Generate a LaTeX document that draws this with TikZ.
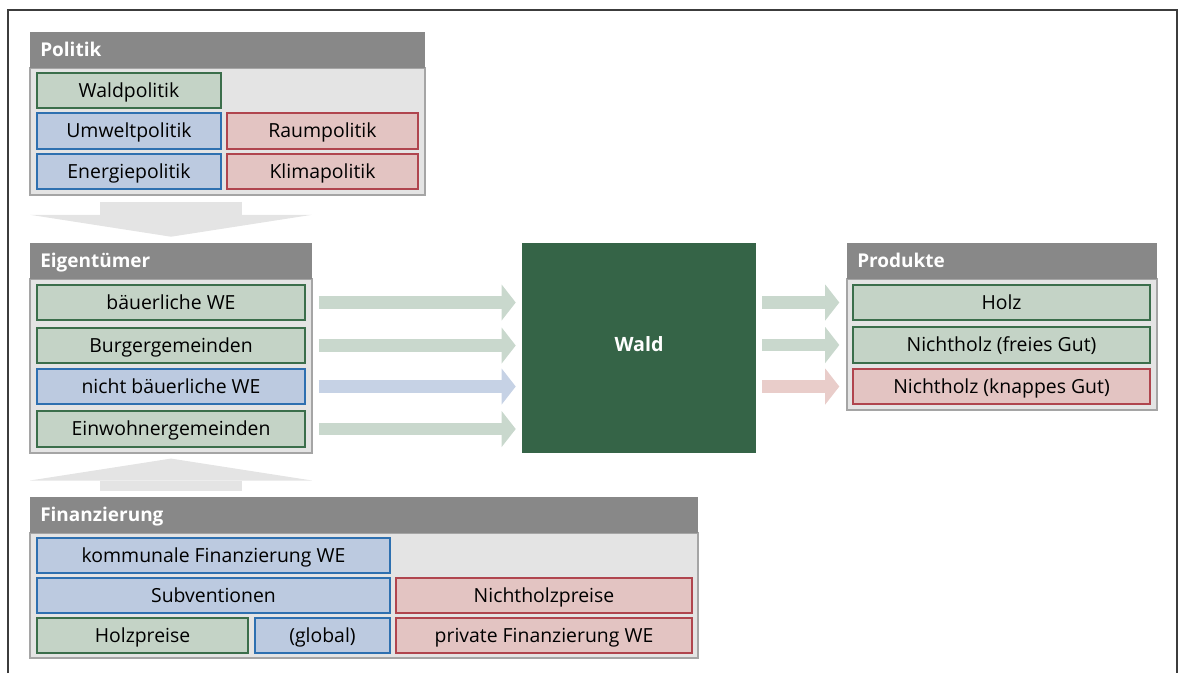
\documentclass[tikz,border=0pt]{standalone}
\usepackage{fontspec}
\setmainfont{Open Sans}
\usetikzlibrary{fit,calc,arrows.meta}

\definecolor{rahmen}{HTML}{3C3C3C}
\definecolor{kopfgrau}{HTML}{888888}
\definecolor{rumpfgrau}{HTML}{E4E4E4}
\definecolor{randgrau}{HTML}{A5A5A5}
\definecolor{pfeilgrau}{HTML}{E4E4E4}
\definecolor{gfill}{HTML}{C4D3C6}
\definecolor{grand}{HTML}{3B6E4B}
\definecolor{bfill}{HTML}{BCCAE0}
\definecolor{brand}{HTML}{2E70B0}
\definecolor{rfill}{HTML}{E3C4C2}
\definecolor{rrand}{HTML}{B0454E}
\definecolor{gpfeil}{HTML}{C9D8CD}
\definecolor{bpfeil}{HTML}{C6D2E5}
\definecolor{rpfeil}{HTML}{E9CDCA}
\definecolor{waldgruen}{HTML}{356447}

\tikzset{
  schrift/.style={inner sep=0pt, text=black, text height=9.9pt, text depth=0pt,
    font=\fontsize{13.8}{16}\selectfont},
  feld/.style={inner sep=0pt, line width=1pt},
  gruen/.style={feld, fill=gfill, draw=grand},
  blau/.style={feld, fill=bfill, draw=brand},
  rot/.style={feld, fill=rfill, draw=rrand},
  kopf/.style={fill=kopfgrau, inner sep=0pt},
  rumpf/.style={fill=rumpfgrau, draw=randgrau, line width=0.8pt, inner sep=0pt},
  titel/.style={anchor=west, inner sep=0pt, text=white, text height=9.6pt, text depth=0pt,
    font=\fontsize{13.5}{16}\selectfont\bfseries},
  waldbox/.style={fill=waldgruen, inner sep=0pt},
  waldtext/.style={inner sep=0pt, text=white, text height=10pt, text depth=0pt,
    font=\fontsize{14}{16}\selectfont\bfseries},
  pfeil/.style={line width=9.2pt, -{Triangle[length=10pt,width=25.6pt,line width=0pt]}},
  grosspfeil/.style={line width=101pt, draw=pfeilgrau, -{Triangle[length=15.6pt,width=200.6pt,line width=0pt]}},
}

\begin{document}
\begin{tikzpicture}[x=0.025cm, y=-0.025cm]
  \useasboundingbox (0,0) rectangle (1184,673);
  % 外框
  \draw[rahmen, line width=1pt] (8,673) -- (8,10) -- (1177,10) -- (1177,673);

  % Politik
  \node[rumpf, fit={(30,68) (425,195)}] (politik) {};
  \node[kopf, fit={(30,32) (425,68)}] (politikkopf) {};
  \node[titel] (politiktitel) at (40,50) {Politik};
  \node[gruen, fit={(37,73) (221,108)}, label={[schrift]center:Waldpolitik}] (waldpol) {};
  \node[blau, fit={(37,113) (221,149)}, label={[schrift]center:Umweltpolitik}] (umweltpol) {};
  \node[rot, fit={(227,113) (418,149)}, label={[schrift]center:Raumpolitik}] (raumpol) {};
  \node[blau, fit={(37,154) (221,189)}, label={[schrift]center:Energiepolitik}] (energiepol) {};
  \node[rot, fit={(227,154) (418,189)}, label={[schrift]center:Klimapolitik}] (klimapol) {};

  % Eigentümer
  \node[rumpf, fit={(30,279) (312,453)}] (eigen) {};
  \node[kopf, fit={(30,243) (312,279)}] (eigenkopf) {};
  \node[titel] (eigentitel) at (40,261) {Eigentümer};
  \node[gruen, fit={(37,285) (305,320)}, label={[schrift]center:bäuerliche WE}] (bauer) {};
  \node[gruen, fit={(37,328) (305,363)}, label={[schrift]center:Burgergemeinden}] (burger) {};
  \node[blau, fit={(37,369) (305,404)}, label={[schrift]center:nicht bäuerliche WE}] (nichtbauer) {};
  \node[gruen, fit={(37,411) (305,447)}, label={[schrift]center:Einwohnergemeinden}] (einwohner) {};

  % Wald
  \node[waldbox, fit={(522,243) (756,453)}, label={[waldtext, yshift=2.5pt]center:Wald}] (wald) {};

  % Produkte
  \node[rumpf, fit={(847,279) (1157,410)}] (produkte) {};
  \node[kopf, fit={(847,243) (1157,279)}] (produktekopf) {};
  \node[titel] (produktetitel) at (857,261) {Produkte};
  \node[gruen, fit={(853,285) (1150,320)}, label={[schrift]center:Holz}] (holz) {};
  \node[gruen, fit={(853,327) (1150,363)}, label={[schrift]center:Nichtholz (freies Gut)}] (freies) {};
  \node[rot, fit={(853,369) (1150,404)}, label={[schrift]center:Nichtholz (knappes Gut)}] (knappes) {};

  % Finanzierung
  \node[rumpf, fit={(30,533) (698,658)}] (finanz) {};
  \node[kopf, fit={(30,497) (698,533)}] (finanzkopf) {};
  \node[titel] (finanztitel) at (40,515) {Finanzierung};
  \node[blau, fit={(37,538) (390,573)}, label={[schrift]center:kommunale Finanzierung WE}] (kommunal) {};
  \node[blau, fit={(37,578) (390,613)}, label={[schrift]center:Subventionen}] (subvention) {};
  \node[rot, fit={(396,578) (692,613)}, label={[schrift]center:Nichtholzpreise}] (nhpreise) {};
  \node[gruen, fit={(37,618) (248,653)}, label={[schrift]center:Holzpreise}] (holzpreise) {};
  \node[blau, fit={(255,618) (390,653)}, label={[schrift]center:(global)}] (global) {};
  \node[rot, fit={(396,618) (692,653)}, label={[schrift]center:private Finanzierung WE}] (privat) {};

  % 大箭头
  \draw[grosspfeil] ($(politik.south -| eigenkopf.north)+(0,6)$) -- ($(eigenkopf.north)+(0,-6)$);
  \draw[grosspfeil] ($(finanzkopf.north -| eigen.south)+(0,-6)$) -- ($(eigen.south)+(0,5)$);

  % 左边四个箭头
  \draw[pfeil, gpfeil] ($(bauer.east)+(13,0)$) -- ($(bauer.east -| wald.west)+(-6,0)$);
  \draw[pfeil, gpfeil] ($(burger.east)+(13,0)$) -- ($(burger.east -| wald.west)+(-6,0)$);
  \draw[pfeil, bpfeil] ($(nichtbauer.east)+(13,0)$) -- ($(nichtbauer.east -| wald.west)+(-6,0)$);
  \draw[pfeil, gpfeil] ($(einwohner.east)+(13,0)$) -- ($(einwohner.east -| wald.west)+(-6,0)$);

  % 右边三个箭头
  \draw[pfeil, gpfeil] ($(holz.west -| wald.east)+(6,0)$) -- ($(holz.west)+(-13,0)$);
  \draw[pfeil, gpfeil] ($(freies.west -| wald.east)+(6,0)$) -- ($(freies.west)+(-13,0)$);
  \draw[pfeil, rpfeil] ($(knappes.west -| wald.east)+(6,0)$) -- ($(knappes.west)+(-13,0)$);
\end{tikzpicture}
\end{document}
